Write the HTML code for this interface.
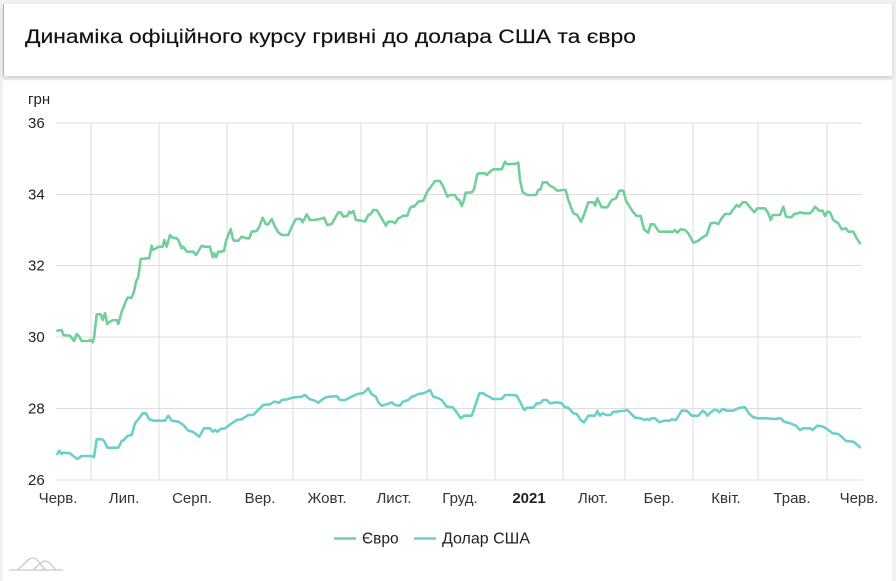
<!DOCTYPE html>
<html>
<head>
<meta charset="utf-8">
<style>
  html,body{margin:0;padding:0;}
  body{width:896px;height:581px;background:#f1f1ef;overflow:hidden;position:relative;font-family:"Liberation Sans","Noto Sans CJK SC",sans-serif;}
  .title{position:absolute;left:3px;top:4px;width:889px;height:72px;background:#fff;border-left:1px solid #7fd3a6;box-shadow:0 2px 4px rgba(0,0,0,0.14);box-sizing:border-box;}
  .card{position:absolute;left:3px;top:80px;width:889px;height:501px;background:#fff;}
  svg{position:absolute;left:0;top:0;}
</style>
</head>
<body>
<div class="card"></div>
<div class="title"></div>
<svg width="896" height="581" viewBox="0 0 896 581" xmlns="http://www.w3.org/2000/svg">
  <text x="25" y="43" font-family="Liberation Sans, sans-serif" font-size="19.5" fill="#111" stroke="#111" stroke-width="0.15" textLength="611" lengthAdjust="spacingAndGlyphs">Динаміка офіційного курсу гривні до долара США та євро</text>

  <!-- grid -->
  <g stroke="#dedede" stroke-width="1">
    <line x1="56" y1="123" x2="862" y2="123"/>
    <line x1="56" y1="194.5" x2="862" y2="194.5"/>
    <line x1="56" y1="265.5" x2="862" y2="265.5"/>
    <line x1="56" y1="337" x2="862" y2="337"/>
    <line x1="56" y1="408.5" x2="862" y2="408.5"/>
    <line x1="56" y1="480" x2="862" y2="480"/>
    <line x1="91" y1="123" x2="91" y2="480"/>
    <line x1="159" y1="123" x2="159" y2="480"/>
    <line x1="227" y1="123" x2="227" y2="480"/>
    <line x1="293" y1="123" x2="293" y2="480"/>
    <line x1="361" y1="123" x2="361" y2="480"/>
    <line x1="427" y1="123" x2="427" y2="480"/>
    <line x1="495" y1="123" x2="495" y2="480"/>
    <line x1="563" y1="123" x2="563" y2="480"/>
    <line x1="625" y1="123" x2="625" y2="480"/>
    <line x1="693" y1="123" x2="693" y2="480"/>
    <line x1="758" y1="123" x2="758" y2="480"/>
    <line x1="827" y1="123" x2="827" y2="480"/>
  </g>

  <!-- y labels -->
  <g font-family="Liberation Sans, sans-serif" font-size="15" fill="#222">
    <text x="28" y="104">грн</text>
    <text x="28" y="128">36</text>
    <text x="28" y="199.5">34</text>
    <text x="28" y="270.5">32</text>
    <text x="28" y="342">30</text>
    <text x="28" y="413.5">28</text>
    <text x="28" y="485">26</text>
  </g>

  <!-- x labels -->
  <g font-family="Liberation Sans, sans-serif" font-size="15" fill="#333" text-anchor="middle">
    <text x="58" y="503">Черв.</text>
    <text x="124" y="503">Лип.</text>
    <text x="192" y="503">Серп.</text>
    <text x="260" y="503">Вер.</text>
    <text x="327" y="503">Жовт.</text>
    <text x="394" y="503">Лист.</text>
    <text x="460" y="503">Груд.</text>
    <text x="529" y="503" font-weight="bold" fill="#222">2021</text>
    <text x="593" y="503">Лют.</text>
    <text x="659" y="503">Бер.</text>
    <text x="726" y="503">Квіт.</text>
    <text x="792" y="503">Трав.</text>
    <text x="859" y="503">Черв.</text>
  </g>

  <!-- euro -->
  <polyline fill="none" stroke="#72cf9c" stroke-width="2.6" stroke-linejoin="round" stroke-linecap="round" points="57.3,330.7 61.7,330 63.3,335 70,335.7 74,341 76.7,334 79.3,336.7 81.7,341 88.3,341 90.7,340 92.7,342.3 94,338 96.7,314.3 100.7,314.3 102.7,320 105,313.3 107.3,324 110,321.7 113.3,320 116.7,320 118.3,324 121.7,311.7 127.3,297.7 131.7,297.7 134,291.7 136,281.7 138.3,276.7 140.7,259 146.7,258.3 149.3,258.3 151.7,245.7 152.7,250 156,248.3 158.3,246.7 162.7,246.7 164.3,240 166.7,246.7 170,235 172.7,237.7 176.7,238.3 178.3,240 181.7,248.3 183.3,246.7 186.7,251.7 193.3,251.7 196,255 201.7,245.7 204,246.7 210,246.7 212.7,257.3 214.3,253.3 216,257.3 218.3,251.7 220.7,251.7 224,251 226,241 230.7,229 232.7,238.3 234,240.7 238.3,240.7 241.7,236.7 246.7,238.3 249.3,238.3 251.7,231.7 256.7,231 259.3,226.7 262.7,217.7 266,224.3 268.3,224.3 271.7,219 275,226.7 278.3,232.3 281.7,235 288.3,235 291.7,226.7 296,219 300.7,219 302.7,222.3 306.7,214.3 310,220 315,220 320,219 324,217.7 327.3,225 331.7,224 338.3,212.3 340.7,212.3 343.3,216.7 347.3,216 349.3,211.7 350.7,213.3 353.3,211 356,220 361.7,220.7 365,221.7 368.3,215 370.7,214 373.3,210 376.7,210 381.7,218.3 386,225.7 388.3,221.7 392.7,221.7 395,223.3 398.3,218.3 400,217.7 403.3,215.7 407.3,215.7 410,208.3 412.7,206 414,206.7 418.3,201.7 423.3,200.7 427.3,191.7 435,181 440,181 443.3,186.7 447.3,196.7 450,195 455,195 457.3,199.3 459.3,200 461.7,206 464,200 465.7,192.7 471.7,192.3 474,189.3 477.3,174.3 479.3,173.3 485,173.3 486.7,175 490,171.7 493.3,169.3 501.7,169.3 505,161.7 507.3,164.3 510,164 514,164 518.3,162.7 520,180 522.7,192.3 527.3,195 536,195 538.3,190 540.7,189.3 542.7,182.3 546.7,182.3 550,185.7 553.3,187.3 557.3,190.7 563.3,190 565.7,190 568.3,200 573.3,213.3 577.3,215 581,221.7 583.3,216.7 588.3,202.3 593.3,202.3 595,205.7 597.3,198.3 601.7,207.3 607.3,207.3 611.7,200 616,198.3 619.3,190.7 623.3,190.7 626,200.7 630,207.3 633.3,212.3 636.7,216 640.7,216 644,229.3 648.3,232.7 650.7,224.3 654,224.3 659,231.7 665,231.7 673.3,231.7 675,230 677.3,232.7 680.7,229.3 685,230 688.3,233.3 693.3,242.7 698.3,240.7 702.7,237.3 706.7,235 710.7,223.3 715,222.7 718.3,224 721,219.3 725,214 730,214 732.7,210 736.7,205 739.3,206.7 742.7,202.3 746,202.3 750,207.3 754.3,212.3 757.3,208.3 765,208.3 768.3,213.3 770.7,220 772.7,215 780,215 783.3,206.7 786,216.7 791.7,217.3 794,214 798.3,213.3 800,212.3 803.3,213.3 810,213.3 812.7,210.7 815,206.7 819.3,210.7 822.7,210.7 825,216 827.3,211.7 830,212.3 833.3,220 838.3,223.3 841.7,229.3 846,228.3 848.3,231.7 853.3,231.7 856.7,238.3 860,243.3"/>

  <!-- dollar -->
  <polyline fill="none" stroke="#6ccfcb" stroke-width="2.6" stroke-linejoin="round" stroke-linecap="round" points="57.3,454 59.3,450.7 61.7,454 63.3,452.7 70,453.3 73.3,456 77.3,459 81.7,456 91.7,456 94,457.3 96.7,439.3 101.7,439.3 104,440.7 107.3,447.7 112.7,447.7 118.3,447.7 121.7,441 124,440 127.3,436 131.7,435 135,423.3 138.3,419.3 142.7,413.3 146,413.3 149.3,419.3 154,420.7 165,420.7 168.3,415.7 171.7,420.7 178.3,421.7 183.3,425 188.3,430.7 192.7,431.7 199.3,436.7 204,428.3 210,428.3 212.7,431.7 215,430 217.3,431.7 220.7,429 225,428.3 231.7,423.3 236.7,420 241.7,419.3 248.3,415 253.3,415 257.3,410.7 263.3,405 270,404.3 274,401.7 279.3,402.7 281.7,400 287.3,399.3 290,398.3 295,397.3 301.7,396.7 305,395 309.3,399 315,400.7 318.3,402.7 322.7,399.3 325,397.7 328.3,396.7 331.7,396.7 336.7,396 340,400 345,400 351.7,396.7 357.3,394 362.7,393.3 365,391.7 368.3,388.3 371.7,394.3 376,396.7 378.3,402.3 381.7,405.7 386.7,404.3 391.7,402.3 395,405 400,405.7 402.7,401.7 408.3,400 411.7,396.7 415,395.7 418.3,394 423.3,393.3 427.3,391.7 430,390 433.3,396.7 438.3,398.3 441.7,400 446.7,406.7 452.7,407.3 456.7,412.3 460.7,418.3 464,415.7 471.7,415.7 476,403.3 479.3,393.3 483.3,393.3 486.7,395.7 489.3,396.7 492.7,399 501.7,399 505,395 513.3,395 516.7,395.7 520,401.7 524.3,410 527.3,407.7 533.3,407.7 536.7,403.3 540,403.3 543.3,400 546.7,400 550,403.3 556.7,402.3 561.7,403.3 565,407.3 568.3,407.7 573.3,413.3 576.7,414 580.7,420 584,422.3 588.3,415.7 595,415.7 597.3,411 600,415.7 602.7,413.3 606,415 610.7,415 613.3,411.7 616.7,411.7 619.3,411 623.3,411 627.3,410 630.7,413.3 635,417.7 640.7,418.3 644,420 647.3,419 649.3,420 651.7,418.3 655,418.3 659.3,422.3 664,420.7 670,420.7 671.7,419.3 676,420 681.7,410.7 686.7,410.7 691.7,415.7 698.3,415.7 702.7,410.7 705,412.3 707.3,415.7 710.7,412.3 714,410 716.7,410 719.3,412.3 722.7,409 726.7,410.7 733.3,410.7 738.3,408.3 742.7,407.3 745,407.3 749.3,414 753.3,417.3 758.3,418.3 766.7,418.3 773.3,419 780.7,418.3 784,421.7 790,423.3 796,425.7 800,430 803.3,428.3 810,428.3 812.7,430 817.3,425.7 823.3,426.7 828.3,430 832.7,433.3 838.3,434 841.7,436.7 846,441 853.3,441.7 856.7,444.3 860,447.3"/>

  <!-- legend -->
  <line x1="334" y1="538.5" x2="356" y2="538.5" stroke="#72cf9c" stroke-width="2.5"/>
  <text x="362" y="543.5" font-family="Liberation Sans, sans-serif" font-size="15.5" fill="#222">Євро</text>
  <line x1="414" y1="538.5" x2="436" y2="538.5" stroke="#6ccfcb" stroke-width="2.5"/>
  <text x="442" y="543.5" font-family="Liberation Sans, sans-serif" font-size="15.5" fill="#222" textLength="88" lengthAdjust="spacingAndGlyphs">Долар США</text>

  <!-- logo -->
  <g fill="none" stroke="#c9c9c9" stroke-width="1.3">
    <line x1="9" y1="570" x2="63" y2="570"/>
    <path d="M17,570 C24,566 27,558 33,558 C39,558 42,570 47,570"/>
    <path d="M33,570 C38,566 41,561 45,561 C50,561 52,567 56,570"/>
  </g>
</svg>
</body>
</html>
